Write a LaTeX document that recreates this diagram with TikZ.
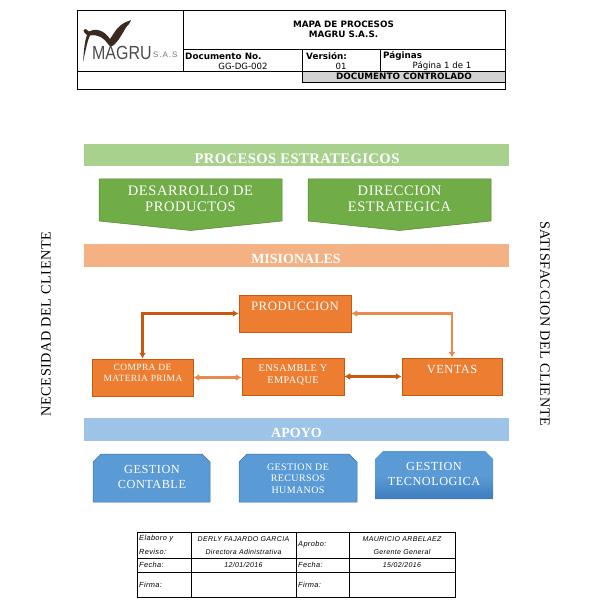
\documentclass[tikz,border=0pt]{standalone}
\usepackage{fontspec}
\setmainfont{Liberation Serif}
\newfontfamily\hdr{DejaVu Sans}
\newfontfamily\tbl[LetterSpace=5]{Liberation Sans}
\newfontfamily\logof{Liberation Sans}
\newfontfamily\logos[LetterSpace=12]{Liberation Sans}
\newfontfamily\wser[LetterSpace=4]{Liberation Serif}
\newfontfamily\bser[LetterSpace=3]{Liberation Serif}
\usetikzlibrary{arrows.meta}
\newcommand{\fs}[1]{\fontsize{#1}{#1}\selectfont}
\definecolor{orgA}{HTML}{ED7D31}
\definecolor{orgB}{HTML}{C55A11}
\definecolor{orgC}{HTML}{EB8A4C}
\definecolor{grnA}{HTML}{70AD47}
\definecolor{grnB}{HTML}{548235}
\definecolor{bluA}{HTML}{5B9BD5}
\definecolor{bluB}{HTML}{41719C}
\definecolor{bluC}{HTML}{3F7DBF}
\definecolor{barG}{HTML}{A9D18E}
\definecolor{barO}{HTML}{F4B183}
\definecolor{barB}{HTML}{9DC3E6}
\definecolor{logoD}{HTML}{3A2A20}
\tikzset{
  x=1pt,y=-1pt,
  hline/.style={draw=black,line width=0.9pt},
  bar/.style={draw=none,inner sep=0pt},
  bartext/.style={text=white,inner sep=0pt},
  obox/.style={fill=orgA,draw=orgB,line width=0.5pt,inner sep=0pt},
  wtext/.style={text=white,align=center,inner sep=0pt},
  link/.style={line width=2.2pt,{Latex[length=6pt,width=7pt]}-{Latex[length=6pt,width=7pt]}},
  penta/.style={fill=grnA,draw=grnB,line width=0.5pt},
  snip/.style={fill=bluA,draw=bluB,line width=0.5pt},
  hd/.style={font=\fs{8.6}\hdr,inner sep=0pt,align=center},
  hdb/.style={font=\fs{8.8}\hdr\bfseries,inner sep=0pt,align=center},
  tb/.style={font=\fs{7}\tbl\itshape,inner sep=0pt,align=center},
  tbl/.style={font=\fs{7.4}\tbl\itshape,inner sep=0pt,anchor=west},
  side/.style={font=\fs{14.2}\wser,inner sep=0pt},
}
\begin{document}
\begin{tikzpicture}
\useasboundingbox (0,0) rectangle (609,612);
% header
\fill[gray!35] (302,71) rectangle (505,82);
\draw[hline] (77,10) rectangle (505,89);
\draw[hline] (183,10) -- (183,71);
\draw[hline] (183,49.5) -- (505,49.5);
\draw[hline] (77,71) -- (505,71);
\draw[hline] (302,49.5) -- (302,82);
\draw[hline] (380,49.5) -- (380,71);
\draw[black,line width=0.7pt] (302,82) -- (505,82);
% logo
\fill[logoD] (83.5,30.5) .. controls (86,27) and (87,31) .. (89,31.5)
  .. controls (96,28) and (104,30) .. (110,39)
  .. controls (115,32) and (118,24) .. (130,20.5)
  .. controls (133,19.5) and (129,22) .. (129,24)
  .. controls (125,27) and (123,35) .. (115,44)
  .. controls (112,47) and (110,47) .. (108,44)
  .. controls (104,38) and (98,34) .. (90,35.5)
  .. controls (88,39) and (86,48) .. (83,62)
  .. controls (84,48) and (85,40) .. (87,35)
  .. controls (85,33) and (84,33) .. (83.5,30.5) -- cycle;
\node[inner sep=0pt,anchor=west,text=black!70,font=\fs{19}\logof,xscale=0.84] (logoname) at (92,52.5) {MAGRU};
\node[inner sep=0pt,anchor=west,text=black!55,font=\fs{8}\logos] (logosas) at (153,54.5) {S.A.S};
% header text
\node[hdb] (t1) at (343.5,24.5) {MAPA DE PROCESOS};
\node[hdb] (t2) at (343.5,34.5) {MAGRU S.A.S.};
\node[hdb,anchor=west] (t3) at (185,56) {Documento No.};
\node[hd] (t4) at (243,66) {GG-DG-002};
\node[hdb,anchor=west] (t5) at (306,56) {Versión:};
\node[hd] (t6) at (341,66) {01};
\node[hdb,anchor=west] (t7) at (383,56) {Páginas};
\node[hd] (t8) at (442,66) {Página 1 de 1};
\node[hdb] (t9) at (404,76.5) {DOCUMENTO CONTROLADO};
% bars
\node[bar,fill=barG,minimum width=425pt,minimum height=22pt] (barE) at (296.5,155) {};
\node[bartext,font=\fs{14.6}\bser\bfseries] (barEt) at (297,159) {PROCESOS ESTRATEGICOS};
\node[bar,fill=barO,minimum width=425pt,minimum height=23pt] (barM) at (296.5,255.5) {};
\node[bartext,font=\fs{14}\bfseries] (barMt) at (296,259) {MISIONALES};
\node[bar,fill=barB,minimum width=425pt,minimum height=23pt] (barA) at (296.5,429.5) {};
\node[bartext,font=\fs{14}\bfseries] (barAt) at (296.5,433) {APOYO};
% pentagons
\draw[penta] (99,179) -- (282,179) -- (282,221) -- (190.5,230.5) -- (99,221) -- cycle;
\draw[penta] (308,179) -- (491,179) -- (491,221) -- (399.5,230.5) -- (308,221) -- cycle;
\node[wtext,font=\fs{14.5}\wser] (p1) at (190.5,191) {DESARROLLO DE};
\node[wtext,font=\fs{14.5}\wser] (p2) at (190.5,207) {PRODUCTOS};
\node[wtext,font=\fs{14.5}\wser] (p3) at (399.5,191) {DIRECCION};
\node[wtext,font=\fs{14.5}\wser] (p4) at (399.5,207) {ESTRATEGICA};
% process boxes
\node[obox,minimum width=112pt,minimum height=37pt] (prod) at (295,313.5) {};
\node[obox,minimum width=101pt,minimum height=37pt] (comp) at (142.5,377.5) {};
\node[obox,minimum width=102pt,minimum height=37pt] (ens) at (293,376.5) {};
\node[obox,minimum width=100pt,minimum height=37pt] (ven) at (452,376.5) {};
\node[wtext,font=\fs{12.8}\wser] (prodt) at (295,306) {PRODUCCION};
\node[wtext,font=\fs{9.5}\wser] (compt1) at (142.5,367.5) {COMPRA DE};
\node[wtext,font=\fs{9.5}\wser] (compt2) at (143,378.5) {MATERIA PRIMA};
\node[wtext,font=\fs{10.3}\wser] (enst1) at (293,368) {ENSAMBLE Y};
\node[wtext,font=\fs{10.3}\wser] (enst2) at (293,381) {EMPAQUE};
\node[wtext,font=\fs{12.4}\wser] (vent) at (452,369) {VENTAS};
\draw[link,orgB] (comp.north) |- (prod.west);
\draw[link,orgC] (ven.north) |- (prod.east);
\draw[link,orgC] (comp.east) -- (ens.west |- comp.east);
\draw[link,orgB] (ens.east) -- (ven.west);
% support
\draw[snip] (93,502) -- (93,462) -- (101,454) -- (202,454) -- (210,462) -- (210,502) -- cycle;
\draw[snip] (239,502) -- (239,462) -- (247,454) -- (349,454) -- (357,462) -- (357,502) -- cycle;
\shade[top color=bluA,bottom color=bluC,middle color=bluA] (375,499) -- (375,459) -- (383,451) -- (485,451) -- (493,459) -- (493,499) -- cycle;
\node[wtext,font=\fs{12.3}\wser] (s1a) at (152,469) {GESTION};
\node[wtext,font=\fs{12.3}\wser] (s1b) at (152,484) {CONTABLE};
\node[wtext,font=\fs{10}\wser] (s2a) at (298,467.5) {GESTION DE};
\node[wtext,font=\fs{10}\wser] (s2b) at (298,478.5) {RECURSOS};
\node[wtext,font=\fs{10}\wser] (s2c) at (298,490) {HUMANOS};
\node[wtext,font=\fs{12.3}\wser] (s3a) at (434,466) {GESTION};
\node[wtext,font=\fs{12.3}\wser] (s3b) at (434,481) {TECNOLOGICA};
% side labels
\node[side,rotate=90] (left) at (46,324) {NECESIDAD DEL CLIENTE};
\node[side,rotate=-90] (right) at (545,323.5) {SATISFACCION DEL CLIENTE};
% bottom table
\draw[hline] (137,532) rectangle (455,597);
\draw[hline] (191,532) -- (191,597);
\draw[hline] (296,532) -- (296,597);
\draw[hline] (349,532) -- (349,597);
\draw[hline] (137,558) -- (455,558);
\draw[hline] (137,572) -- (455,572);
\node[tbl] (b1) at (139,538.5) {Elaboro y};
\node[tbl] (b2) at (139,552) {Reviso:};
\node[tb] (b3) at (243.5,539) {DERLY FAJARDO GARCIA};
\node[tb] (b4) at (243.5,552) {Directora Adinistrativa};
\node[tbl] (b5) at (298,545) {Aprobo:};
\node[tb] (b6) at (402,539) {MAURICIO ARBELAEZ};
\node[tb] (b7) at (402,552) {Gerente General};
\node[tbl] (b8) at (139,565) {Fecha:};
\node[tb] (b9) at (243.5,565) {12/01/2016};
\node[tbl] (b10) at (298,565) {Fecha:};
\node[tb] (b11) at (402,565) {15/02/2016};
\node[tbl] (b12) at (139,584.5) {Firma:};
\node[tbl] (b13) at (298,584.5) {Firma:};
\end{tikzpicture}
\end{document}
